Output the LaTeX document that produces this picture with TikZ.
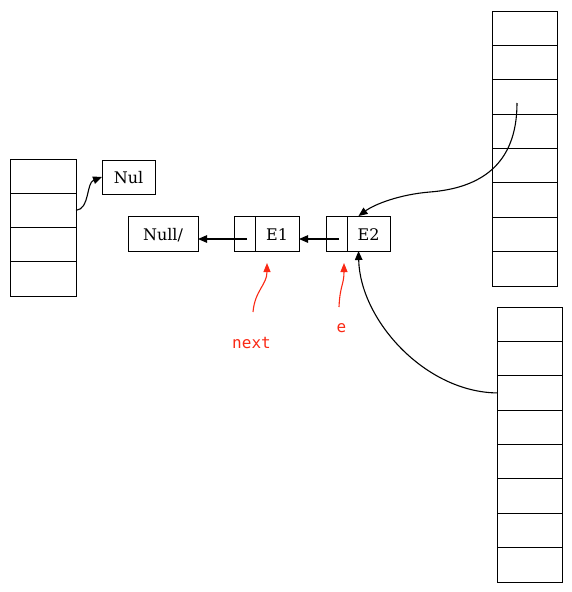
\documentclass[tikz,border=0pt]{standalone}
\usepackage{fontspec}
\newfontfamily\boxfont{DejaVu Serif}
\newfontfamily\labfont{DejaVu Sans Mono}
\usetikzlibrary{arrows.meta,calc}
\definecolor{redarrow}{RGB}{250,40,20}
\begin{document}
\begin{tikzpicture}[x=1pt,y=-1pt,
  cell/.style={draw,line width=1pt,minimum width=66pt,minimum height=34.375pt,inner sep=0pt,outer sep=0pt},
  box/.style={draw,line width=1pt,inner sep=0pt,outer sep=0pt,minimum height=35pt,
    font=\boxfont\fontsize{16}{18}\selectfont,text height=13pt,text depth=0pt},
  arr/.style={line width=1.1pt,-{Triangle[length=9pt,width=7.5pt]}},
  redarr/.style={line width=1.1pt,draw=redarrow,-{Triangle[length=9pt,width=7pt]}},
  lab/.style={text=redarrow,font=\labfont\fontsize{16}{18}\selectfont,inner sep=0pt,anchor=base}]
\useasboundingbox (0,0) rectangle (572,592);
% left array
\foreach \i in {1,...,4}
  \node[cell,minimum height=34.25pt] (L\i) at (43,{159+34.25*(\i-0.5)}) {};
% top right array
\foreach \i in {1,...,8}
  \node[cell,minimum width=65pt] (T\i) at (524.5,{11+34.375*(\i-0.5)}) {};
% bottom right array
\foreach \i in {1,...,8}
  \node[cell,minimum width=65pt] (B\i) at (529.5,{307+34.375*(\i-0.5)}) {};
% boxes
\node[box,minimum width=53pt,minimum height=34pt] (nul) at (128.5,177) {Nul};
\node[box,minimum width=70pt] (null) at (163,233.5) {Null/};
\node[box,minimum width=21pt] (e1p) at (244.5,233.5) {};
\node[box,minimum width=44pt] (e1) at (277,233.5) {E1};
\node[box,minimum width=21pt] (e2p) at (336.5,233.5) {};
\node[box,minimum width=43pt] (e2) at (368.5,233.5) {E2};
% labels
\node[lab] (next) at (251.5,348) {next};
\node[lab] (e) at (341.5,332) {e};
% coordinates
\coordinate (e1s) at (247,239);
\coordinate (e2s) at (339,239);
\coordinate (ts) at (517,103);
\coordinate (tm) at (430,192);
\coordinate (ns) at (253,312);
\coordinate (nt) at (267,263);
\coordinate (es) at (339,307);
\coordinate (et) at (344,263);
% connectors
\draw[arr] (L2.east) .. controls (90,209) and (86,183) .. (nul.west);
\draw[arr] (e1s) -- (e1s -| null.east);
\draw[arr] (e2s) -- (e2s -| e1.east);
\draw[arr] (ts) .. controls (517,165) and (480,188) .. (tm)
  .. controls (400,194.4) and (375,204) .. ([xshift=-10pt]e2.north);
\draw[arr] (B3.west) .. controls (425,392) and (360,320) .. ([xshift=-10pt]e2.south);
\draw[redarr] (ns) .. controls (255,290) and (267,285) .. (nt);
\draw[redarr] (es) .. controls (340,285) and (344,285) .. (et);
\end{tikzpicture}
\end{document}
